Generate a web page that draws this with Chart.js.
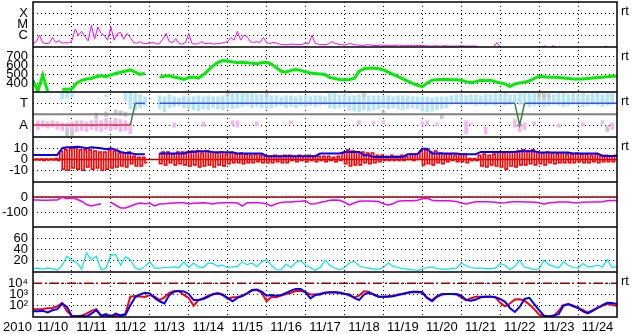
<!DOCTYPE html>
<html>
<head>
<meta charset="utf-8">
<script src="https://cdn.jsdelivr.net/npm/chart.js@4.4.1/dist/chart.umd.min.js"></script>
<style>
  body { margin: 0; background: #fff; }
  #wrap { width: 633px; height: 334px; }
</style>
</head>
<body>
<div id="wrap"><canvas id="plot" width="633" height="334"></canvas></div>
<script>
// x axis: days since 2010-11-10 00:00 UT, one label per day
const yearLabel = '2010';
const dayLabels = ['11/10', '11/11', '11/12', '11/13', '11/14', '11/15', '11/16', '11/17',
                   '11/18', '11/19', '11/20', '11/21', '11/22', '11/23', '11/24'];

// tick values and tick labels of each panel
const xrayTicks = [1e-6, 1e-5, 1e-4];
const xrayTickLabels = ['C', 'M', 'X'];
const speedTicks = [400, 500, 600, 700];
const sectorTicks = [0, 1];
const sectorTickLabels = ['A', 'T'];
const bzTicks = [-10, 0, 10];
const dstTicks = [-100, 0];
const densTicks = [20, 40, 60];
const electronTicks = [1e2, 1e3, 1e4];
const electronTickLabels = ['10²', '10³', '10⁴'];

// reference lines
const sectorBoundary = 0.5;
const bzZero = 0;
const dstZero = 0;
const electronAlert = 1e4;

// X-ray flux (W/m2), 2-hourly, 12 values per day
const xrayFlux = [
  2.0e-7, 3e-7, 1.1e-6, 2.5e-7, 2e-7, 2.2e-7, 7e-7, 2.5e-7, 3.6e-7, 2.2e-7, 2.5e-7, 2.2e-7,
  3.6e-7, 3.9e-6, 1.1e-6, 2.5e-6, 8.5e-7, 3.5e-7, 9e-6, 5e-7, 6e-6, 1.6e-6, 1.1e-6, 4e-7,
  6e-6, 4e-7, 1.6e-6, 2e-6, 5e-7, 1.6e-6, 7e-7, 2.5e-7, 2.2e-7, 3e-7, 2e-7, 2e-7,
  2.2e-7, 2.5e-7, 1.8e-7, 2e-7, 5e-7, 1.6e-6, 3e-7, 2.5e-7, 5.6e-7, 2e-7, 1.8e-7, 2.5e-7,
  1.6e-6, 2e-7, 1.8e-7, 2e-7, 3e-7, 2e-7, 2.2e-7, 2e-7, 1.8e-7, 2e-7, 2.2e-7, 2.5e-7,
  3e-7, 7e-7, 4e-7, 2.5e-6, 4e-7, 1.1e-6, 8.5e-7, 3e-7, 2.5e-7, 3e-7, 2.5e-7, 7e-7,
  2.5e-7, 2e-7, 2.5e-7, 2.3e-7, 1.8e-7, 1.6e-7, 1.6e-7, 1.6e-7, 1.8e-7, 1.6e-7, 1.6e-7, 1.8e-7,
  2e-7, 2e-7, 1.1e-6, 2e-7, 1.8e-7, 1.6e-7, 1.6e-7, 1.8e-7, 3e-7, 2.2e-7, 1.8e-7, 1.6e-7,
  1.5e-7, 1.8e-7, 2e-7, 1.6e-7, 1.5e-7, 1.4e-7, 1.4e-7, 1.6e-7, 1.5e-7, 1.4e-7, 1.3e-7, 1.5e-7,
  1.4e-7, 1.4e-7, 1.3e-7, 1.3e-7, 1.4e-7, 1.5e-7, 1.3e-7, 1.3e-7, 1.4e-7, 1.3e-7, 1.3e-7, 1.4e-7,
  1.3e-7, 1.3e-7, 1.2e-7, 1.2e-7, 1.3e-7, 1.2e-7, 1.2e-7, 1.3e-7, 1.2e-7, 1.2e-7, 1.2e-7, 1.2e-7,
  1.3e-7, 1.2e-7, 1.2e-7, 1.2e-7, 1.2e-7, 1.2e-7, null, null, null, null, 1.0e-7, 2.5e-7,
  1.0e-7, null, null, null, null, null, null, null, null, null, null, null,
  null, 1e-7, 1.3e-7, null, 1.3e-7, 1e-7, null, null, null, null, null, null,
  null, null, null, null, null, null, null, null, 1e-7, 1.2e-7, null, null
];

// solar wind speed (km/s), 3-hourly, 8 values per day
const windSpeed = [
  430, 310, 490, 310, null, null, 330, 330,
  335, 400, 430, 445, 450, 470, 480, 470,
  490, 505, 520, 530, 545, 520, 495, 510,
  null, null, 465, 475, 480, 465, 455, 440,
  460, 465, 455, 490, 540, 590, 630, 650,
  645, 635, 625, 630, 625, 620, 615, 625,
  630, 610, 570, 530, 520, 540, 550, 540,
  525, 510, 505, 500, 495, 460, 450, 440,
  435, 440, 450, 530, 560, 565, 565, 560,
  545, 520, 495, 470, 445, 420, 395, 375,
  360, 400, 430, 435, 440, 440, 435, 435,
  430, 415, 405, 415, 430, 425, 430, 415,
  400, 390, 360, 390, 400, 410, 425, 450,
  475, 470, 465, 465, 460, 455, 450, 445,
  445, 445, 450, 455, 460, 465, 470, 475,
  475
];

// IMF sector polarity (0 = away, 1 = toward), 3-hourly
const sectorPolarity = [
  0, 0, 0, 0, 0, 0, 0, 0,
  0, 0, 0, 0, 0, 0, 0, 0,
  0, 0, 0, 0, 0, 1, 1, 1,
  null, null, 1, 1, 1, 1, 1, 1,
  1, 1, 1, 1, 1, 1, 1, 1,
  1, 1, 1, 1, 1, 1, 1, 1,
  1, 1, 1, 1, 1, 1, 1, 1,
  1, 1, 1, 1, 1, 1, 1, 1,
  1, 1, 1, 1, 1, 1, 1, 1,
  1, 1, 1, 1, 1, 1, 1, 1,
  1, 1, 1, 1, 1, 1, 1, 1,
  1, 1, 1, 1, 1, 1, 1, 1,
  1, 1, 1, 1, 0, 1, 1, 1,
  1, 1, 1, 1, 1, 1, 1, 1,
  1, 1, 1, 1, 1, 1, 1, 1,
  1
];

// IMF direction spread (same units as the sector axis), 3-hourly
const towardLow = [
  null, null, null, null, null, null, 1.2, 1.25,
  1.3, null, null, null, null, null, null, 1.3,
  null, null, null, 1.1, 0.75, 0.7, 0.8, 0.9,
  null, null, 0.75, 0.6, 0.8, 0.85, 0.9, 0.8,
  0.75, 0.7, 0.65, 0.75, 0.7, 0.8, 0.75, 0.7,
  0.8, 0.75, 0.8, 0.85, 0.9, 0.8, 0.85, 0.8,
  0.75, 0.8, 0.85, 0.9, 0.8, 0.85, 0.8, 0.9,
  0.85, 0.9, 0.85, 0.9, 0.95, 0.8, 0.75, 0.8,
  0.85, 0.7, 0.65, 0.6, 0.7, 0.65, 0.7, 0.75,
  0.8, 0.75, 0.8, 0.75, 0.7, 0.75, 0.8, 0.75,
  0.65, 0.6, 0.65, 0.7, 0.75, 0.8, 0.95, 1.0,
  0.9, 0.95, 0.95, 0.9, 0.95, 0.9, 0.95, 0.9,
  0.95, 0.9, 0.95, 1.0, 0.95, 0.9, 0.85, 0.9,
  0.9, 0.85, 0.9, 0.95, 0.9, 0.85, 0.9, 0.95,
  0.9, 0.85, 0.9, 0.95, 0.9, 0.85, 0.9, 0.95,
  null
];
const towardHigh = [
  null, null, null, null, null, null, 1.5, 1.5,
  1.45, null, null, null, null, null, null, 1.4,
  null, null, null, 1.45, 1.5, 1.45, 1.4, 1.3,
  null, null, 1.35, 1.3, 1.4, 1.3, 1.25, 1.35,
  1.3, 1.3, 1.35, 1.3, 1.35, 1.3, 1.3, 1.35,
  1.4, 1.45, 1.45, 1.45, 1.45, 1.45, 1.4, 1.4,
  1.35, 1.35, 1.35, 1.3, 1.35, 1.35, 1.3, 1.35,
  1.35, 1.3, 1.35, 1.35, 1.3, 1.45, 1.45, 1.4,
  1.4, 1.35, 1.35, 1.4, 1.35, 1.35, 1.35, 1.35,
  1.35, 1.35, 1.3, 1.35, 1.35, 1.35, 1.3, 1.3,
  1.3, 1.3, 1.25, 1.3, 1.3, 1.3, 1.35, 1.4,
  1.4, 1.35, 1.4, 1.4, 1.35, 1.4, 1.4, 1.45,
  1.4, 1.45, 1.4, 1.4, 1.45, 1.45, 1.45, 1.45,
  1.45, 1.45, 1.45, 1.4, 1.45, 1.45, 1.4, 1.45,
  1.4, 1.45, 1.4, 1.45, 1.45, 1.4, 1.45, 1.45,
  null
];
// away-side and unclassified spreads, listed by 3-hour bin
const awayBins = [1, 2, 3, 4, 5, 6, 7, 8, 9, 10, 11, 12, 13, 14, 15, 16, 17, 18, 19, 20,
  29, 35, 41, 42, 46, 53, 67, 70, 72, 80, 81, 83, 89, 90, 93, 99, 100, 101, 103, 108, 113, 117, 119];
const awayLow = [-0.2, -0.1, -0.15, -0.1, -0.2, -0.25, -0.3, -0.35, -0.3, -0.25, -0.3, -0.2, -0.25, -0.3, -0.2, -0.25, -0.2, -0.3, -0.25, -0.4,
  -0.1, -0.05, 0, -0.1, -0.05, 0.05, 0, 0.05, 0.05, -0.05, 0, -0.05, -0.4, 0, -0.4, -0.1, -0.3, -0.2, 0, -0.1, -0.05, 0.05, -0.2];
const awayHigh = [0.2, 0.2, 0.15, 0.2, 0.15, 0.1, 0.1, 0.15, 0.2, 0.2, 0.15, 0.2, 0.25, 0.2, 0.3, 0.2, 0.3, 0.25, 0.2, 0.1,
  0.1, 0.15, 0.2, 0.2, 0.15, 0.2, 0.2, 0.15, 0.2, 0.15, 0.2, 0.1, 0.2, 0.1, -0.1, 0.25, 0.15, 0.1, 0.15, 0.05, 0.1, 0.2, 0.1];
const otherBins = [7, 8, 13, 15, 17, 18, 19, 40, 48, 68, 72, 84, 104, 105, 106, 118];
const otherLow = [-0.5, -0.5, 0.3, 0.4, 0.5, 0.45, 0.4, 1.35, 1.3, 1.3, 0.55, 0.3, 1.25, 1.2, 1.25, -0.3];
const otherHigh = [-0.2, -0.3, 0.55, 0.6, 0.7, 0.65, 0.6, 1.5, 1.45, 1.45, 0.65, 0.5, 1.45, 1.45, 1.4, -0.05];

// IMF Bt and Bz range (nT), 3-hourly
const imfBt = [
  4.3, 4.3, 4.3, 4.3, 4.3, 4.3, 10.5, 11.5,
  11.5, 12, 11.5, 10.5, 11.5, 11, 10.5, 9.5,
  10.5, 9, 7, 6, 6, 5, 5, 5,
  null, null, 5.6, 5.6, 5.6, 5.6, 5.6, 5.6,
  7, 7, 7.7, 7.7, 7.7, 6.8, 6.8, 6.8,
  6.8, 6.8, 5.6, 5.6, 5.6, 5.6, 5.6, 5.6,
  3.1, 3.1, 3.1, 3.1, 3.1, 3.1, 3.1, 3.1,
  3.1, 3.1, 3.1, 5.6, 5.6, 5.6, 5.6, 5.6,
  7, 7, 7, 7, 4, 4, 2.4, 2.4,
  2.4, 2.4, 2.4, 2.4, 2.4, 5, 5, 5,
  10, 10, 5.6, 5.6, 5.6, 5.6, 5.6, 5.6,
  5, 5, 5, 5, 7.1, 7.1, 7.1, 7.1,
  7.1, 7.1, 7.1, 7.1, 7.7, 7.7, 7.7, 7.7,
  6.5, 6.5, 6.5, 6.5, 6.5, 6.5, 6.5, 5.6,
  5.6, 5.6, 5.6, 5.6, 5.6, 3.3, 3.3, 3.3,
  3.3
];
const bzMax = [
  0.5, 0.5, 0.5, 0.5, 0.5, 1, 8, 9,
  10, 11, 9, 9, 9, 8, 7, 7,
  9, 8, 6, 6, 7, 3, 2, 2,
  null, null, 6, 7, 7, 5, 7, 7,
  7, 8, 8, 6, 8, 7, 6, 7,
  5, 6, 5, 6, 5, 4, 5, 4,
  4, 3, 4, 3, 4, 4, 3, 4,
  3, 4, 3, 3, 3, 3, 2, 3,
  6, 9, 8, 7, 7, 6, 6, 4,
  4, 3, 4, 3, 4, 3, 5, 5,
  8, 9, 7, 8, 6, 5, 5, 4,
  5, 5, 1, 1, 4, 5, 4, 5,
  7, 6, 7, 7, 8, 9, 8, 9,
  7, 6, 7, 6, 5, 6, 5, 5,
  6, 5, 5, 4, 5, 4, 4, 3,
  4
];
const bzMin = [
  -0.5, -0.5, -1, -0.5, -0.5, -1, -9, -10,
  -8, -9, -10, -7, -9, -8, -10, -9,
  -8, -7, -6, -7, -4, -6, -6, -3,
  null, null, -4, -5, -3, -5, -4, -5,
  -6, -5, -7, -6, -5, -7, -5, -6,
  -4, -3, -3, -4, -3, -3, -2, -3,
  -3, -3, -2, -3, -3, -1, -2, -1,
  -2, -1, -2, -1, -2, -1, -2, -1,
  -4, -6, -5, -5, -3, -4, -3, -2,
  -1, -1, -1, -1, -1, 0, -1, 0,
  -5, -4, -5, -3, -4, -2, -1, -2,
  -2, -3, -1, -1, -6, -7, -5, -6,
  -7, -9, -6, -7, -5, -5, -4, -5,
  -4, -5, -3, -4, -3, -3, -3, -3,
  -2, -3, -3, -2, -3, -2, -2, -2,
  -2
];

// Dst (nT), 3-hourly
const dstIndex = [
  -20, -20, -22, -22, -20, -20, -2, -12,
  -5, -15, -28, -50, -60, -52, -45, null,
  -35, -55, -73, -73, -62, -48, -40, -45,
  -42, -60, -47, -45, -42, -40, -38, -38,
  -47, -42, -40, -38, -42, -47, -40, -38,
  -38, -38, -40, -60, -38, -38, -38, -40,
  -47, -60, -45, -36, -34, -33, -30, -28,
  -25, -47, -45, -36, -30, -22, -20, -22,
  -35, -53, -40, -28, -27, -27, -28, -30,
  -45, -53, -45, -28, -25, -25, -25, -22,
  -12, -8, -22, -25, -25, -25, -27, -30,
  -40, -47, -38, -32, -31, -31, -33, -35,
  -40, -38, -33, -32, -32, -33, -34, -35,
  -38, -48, -38, -36, -34, -33, -34, -38,
  -38, -35, -34, -33, -34, -32, -25, -24,
  -24
];

// solar wind density, 3-hourly
const windDensity = [
  6, 7, 5, 7, 6, 3, 12, 28,
  20, 17, 5, 34, 22, 28, 4, 7,
  30, 31, 12, 27, 22, 7, 4, 10,
  18, 7, 7, 8, 8, 9, 8, 18,
  8, 16, 9, 8, 16, 15, 10, 12,
  8, 9, 10, 18, 13, 16, 10, 18,
  22, 12, 4, 4, 14, 8, 17, 20,
  12, 8, 3, 8, 21, 12, 7, 4,
  8, 16, 19, 11, 8, 7, 5, 5,
  8, 16, 10, 8, 6, 5, 4, 3,
  5, 8, 9, 6, 5, 5, 6, 7,
  16, 11, 8, 7, 7, 6, 6, 7,
  15, 12, 4, 10, 21, 8, 7, 4,
  6, 21, 13, 10, 7, 18, 12, 8,
  7, 15, 9, 10, 12, 9, 22, 8,
  10
];

// >2 MeV electron flux, two satellites, 3-hourly
const electronsA = [
  48, 48, 52, 60, 63, 89, 174, 32,
  13, 12, 13, 20, 35, 50, 13, 12,
  13, 12, 13, 20, 630, 740, 660, 600,
  910, 630, 320, 560, 1410, 2000, 2000, 910,
  500, 100, 320, 460, 790, 1000, 1260, 1000,
  400, 560, 600, 790, 1260, 2240, 2510, 1410,
  250, 630, 560, 790, 1120, 1450, 2000, 2090,
  1580, 1000, 1000, 1200, 1410, 1510, 1580, 1320,
  1260, 790, 560, 790, 1900, 1780, 1000, 630,
  630, 710, 760, 1000, 1200, 1450, 1660, 1580,
  1410, 500, 320, 710, 1120, 1120, 1100, 1000,
  560, 320, 460, 630, 630, 630, 660, 560,
  186, 89, 158, 355, 372, 282, 126, 50,
  16, 12, 11, 12, 35, 117, 132, 89,
  63, 42, 25, 40, 66, 100, 145, 120,
  95
];
const electronsB = [
  32, 32, 35, 25, 40, 50, 158, 79,
  11, 11, 13, 11, 20, 40, 13, 18,
  11, 20, 14, 16, 112, 560, 1000, 1410,
  1260, 500, 250, 158, 890, 1780, 2000, 1900,
  1120, 320, 320, 400, 630, 1120, 1260, 890,
  500, 250, 500, 710, 1260, 2510, 2820, 1780,
  790, 890, 790, 890, 1410, 2190, 3160, 3160,
  1580, 460, 890, 1000, 1410, 1580, 1580, 1510,
  1120, 1000, 500, 320, 1000, 1410, 1000, 630,
  630, 630, 710, 890, 1120, 1410, 1780, 1780,
  1580, 500, 250, 630, 1000, 1120, 1120, 1120,
  790, 320, 280, 355, 560, 630, 630, 560,
  400, 224, 63, 28, 79, 400, 500, 141,
  40, 13, 11, 14, 18, 100, 141, 100,
  63, 32, 21, 35, 63, 112, 186, 178,
  145
];

const panelIds = ['y1', 'y2', 'y3', 'y4', 'y5', 'y6', 'y7'];
const rtPanels = ['y1', 'y2', 'y3', 'y4', 'y7'];
const FONT = '"Liberation Sans", Arial, sans-serif';

function timeSeries(values, stepHours) {
  return values.map((v, i) => ({ x: i * stepHours / 24, y: v }));
}
function rangeSeries(lo, hi, stepHours) {
  const out = [];
  lo.forEach((v, i) => { if (v !== null) out.push({ x: i * stepHours / 24, y: [v, hi[i]] }); });
  return out;
}
function binRanges(bins, lo, hi) {
  return bins.map((b, j) => ({ x: b * 3 / 24, y: [lo[j], hi[j]] }));
}
function flatLine(value) {
  return [{ x: 0, y: value }, { x: dayLabels.length, y: value }];
}

const bzData = [];
bzMax.forEach((v, i) => {
  const t = i * 3 / 24;
  bzData.push({ x: t, y: v }, { x: t + 1.5 / 24, y: bzMin[i] });
});

// tick labels may hang over the panel edges; keep the plot frame fixed
function noPadding(axis) {
  axis.paddingTop = 0;
  axis.paddingBottom = 0;
  axis.paddingLeft = 0;
  axis.paddingRight = 0;
}

function panelAxis(type, min, max, ticks, labels) {
  return {
    type: type, position: 'left', stack: 'panels', stackWeight: 1,
    min: min, max: max, offset: false,
    grid: { color: '#000', lineWidth: 1, drawTicks: false },
    border: { display: false, dash: [1, 3] },
    ticks: {
      color: '#000', padding: 5, autoSkip: false, font: { size: 13, family: FONT },
      callback: (value, index) => labels ? labels[index] : String(value)
    },
    afterBuildTicks: axis => { axis.ticks = ticks.map(v => ({ value: v })); },
    afterFit: axis => { axis.width = 33; noPadding(axis); }
  };
}

const panelFrame = {
  id: 'panelFrame',
  afterDatasetsDraw(chart) {
    const { ctx, chartArea: a } = chart;
    ctx.save();
    ctx.strokeStyle = '#000';
    ctx.lineWidth = 1.5;
    ctx.strokeRect(a.left, a.top, a.right - a.left, a.bottom - a.top);
    ctx.beginPath();
    panelIds.slice(1).forEach(id => {
      const y = Math.round(chart.scales[id].top);
      ctx.moveTo(a.left, y);
      ctx.lineTo(a.right, y);
    });
    ctx.stroke();
    ctx.fillStyle = '#000';
    ctx.font = '13px ' + FONT;
    ctx.textBaseline = 'middle';
    ctx.textAlign = 'left';
    rtPanels.forEach(id => ctx.fillText('rt', a.right + 4, chart.scales[id].top + 9));
    ctx.textAlign = 'right';
    ctx.fillText(yearLabel, a.left - 1, a.bottom + 10);
    ctx.restore();
  }
};

const line = (extra) => Object.assign({
  type: 'line', pointRadius: 0, borderWidth: 1, tension: 0, spanGaps: false, fill: false
}, extra);
const bars = (extra) => Object.assign({
  type: 'bar', grouped: false, barThickness: 3, borderWidth: 0, yAxisID: 'y3'
}, extra);

// stacked panel axes are laid out bottom-up, so list them from the bottom panel
const scales = {
  x: {
    type: 'linear', min: 0, max: dayLabels.length, offset: false,
    grid: {
      offset: false, drawTicks: false, lineWidth: 1,
      color: c => (c.tick && c.tick.value > 0 && c.tick.value < dayLabels.length) ? '#000' : 'rgba(0,0,0,0)'
    },
    border: { display: false, dash: [1, 3] },
    ticks: {
      color: '#000', padding: 3, autoSkip: false, maxRotation: 0, labelOffset: 19.5,
      font: { size: 13, family: FONT },
      callback: value => dayLabels[Math.round(value)] || ''
    },
    afterBuildTicks: axis => {
      axis.ticks = dayLabels.map((_, d) => ({ value: d })).concat([{ value: dayLabels.length }]);
    },
    afterFit: axis => { axis.height = 17; noPadding(axis); }
  },
  y7: panelAxis('logarithmic', 10, 1e5, electronTicks, electronTickLabels),
  y6: panelAxis('linear', 0, 80, densTicks, null),
  y5: panelAxis('linear', -200, 100, dstTicks, null),
  y4: panelAxis('linear', -21, 21, bzTicks, null),
  y3: panelAxis('linear', -0.55, 1.52, sectorTicks, sectorTickLabels),
  y2: panelAxis('linear', 300, 800, speedTicks, null),
  y1: panelAxis('logarithmic', 1e-7, 1e-3, xrayTicks, xrayTickLabels)
};

new Chart(document.getElementById('plot'), {
  type: 'line',
  data: {
    datasets: [
      line({ data: timeSeries(xrayFlux, 2), yAxisID: 'y1', borderColor: '#ff00ff', order: 10 }),
      line({ data: timeSeries(windSpeed, 3), yAxisID: 'y2', borderColor: '#00ee00', borderWidth: 3, order: 20 }),
      bars({ data: rangeSeries(towardLow, towardHigh, 3), backgroundColor: '#b4e6f7', order: 40 }),
      bars({ data: binRanges(awayBins, awayLow, awayHigh), backgroundColor: '#f4b8f0', order: 39 }),
      bars({ data: binRanges(otherBins, otherLow, otherHigh), backgroundColor: '#c8c8c8', order: 38 }),
      line({ data: flatLine(sectorBoundary), yAxisID: 'y3', borderColor: '#808080', borderWidth: 2, order: 31 }),
      line({
        data: timeSeries(sectorPolarity, 3), yAxisID: 'y3', borderColor: '#4050f0', borderWidth: 1.5, order: 30,
        segment: {
          borderColor: c => {
            const a = c.p0.parsed.y, b = c.p1.parsed.y;
            if (a === 0 && b === 0) return '#d83040';
            if (a === 1 && b === 1) return '#4050f0';
            return '#3c8040';
          }
        }
      }),
      line({ data: flatLine(bzZero), yAxisID: 'y4', borderColor: '#b00000', borderWidth: 1.5, order: 52 }),
      line({ data: bzData, yAxisID: 'y4', borderColor: '#ff0000', borderWidth: 1.6, stepped: 'after', order: 51 }),
      line({ data: timeSeries(imfBt, 3), yAxisID: 'y4', borderColor: '#0000ff', borderWidth: 2, order: 50 }),
      line({ data: flatLine(dstZero), yAxisID: 'y5', borderColor: '#a00000', borderWidth: 1.5, order: 61 }),
      line({ data: timeSeries(dstIndex, 3), yAxisID: 'y5', borderColor: '#ee00ee', borderWidth: 1.5, order: 60 }),
      line({ data: timeSeries(windDensity, 3), yAxisID: 'y6', borderColor: '#00e8e8', borderWidth: 1.2, order: 70 }),
      line({ data: flatLine(electronAlert), yAxisID: 'y7', borderColor: '#a00000', borderWidth: 1.5, borderDash: [9, 3, 2, 3], order: 82 }),
      line({ data: timeSeries(electronsA, 3), yAxisID: 'y7', borderColor: '#ff0000', borderWidth: 2, order: 81 }),
      line({ data: timeSeries(electronsB, 3), yAxisID: 'y7', borderColor: '#0000ff', borderWidth: 2, order: 80 })
    ]
  },
  options: {
    responsive: false,
    animation: false,
    layout: { padding: { left: 0, right: 16, top: 2, bottom: 0 } },
    plugins: { legend: { display: false }, tooltip: { enabled: false } },
    scales: scales
  },
  plugins: [panelFrame]
});
</script>
</body>
</html>
